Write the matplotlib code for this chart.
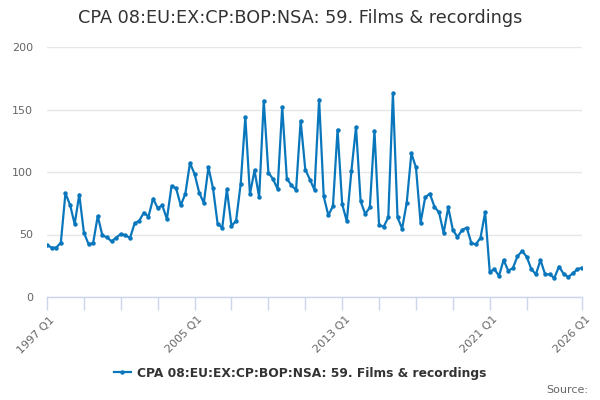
import matplotlib
matplotlib.use("Agg")
import matplotlib.pyplot as plt
from matplotlib.lines import Line2D

title = "CPA 08:EU:EX:CP:BOP:NSA: 59. Films & recordings"
years = list(range(1997, 2027))
periods = [f"{y} Q{q}" for y in years for q in range(1, 5)][:117]

values = [
    41.6, 39.5, 39.5, 43.5,
    83.0, 73.6, 58.4, 82.0,
    51.5, 42.4, 43.0, 64.8,
    49.3, 47.7, 44.5, 47.5,
    50.4, 49.3, 47.2, 59.0,
    61.0, 67.5, 64.3, 78.7,
    71.2, 73.3, 62.4, 88.8,
    86.9, 73.3, 82.7, 107.2,
    98.4, 83.5, 75.2, 103.7,
    86.9, 58.4, 55.5, 86.1,
    56.8, 61.0, 90.7, 144.0,
    82.4, 101.3, 79.7, 157.0,
    99.5, 94.4, 86.4, 152.0,
    94.7, 89.3, 85.6, 141.0,
    102.0, 94.0, 85.6, 158.0,
    80.5, 65.3, 72.8, 133.9,
    74.4, 60.5, 100.8, 136.0,
    76.5, 66.4, 71.7, 132.8,
    57.3, 56.3, 63.7, 162.9,
    63.7, 54.7, 75.5, 114.9,
    103.7, 59.5, 79.7, 82.7,
    72.3, 67.7, 51.2, 71.7,
    53.6, 48.0, 53.6, 55.5,
    43.2, 42.1, 47.5, 67.7,
    20.0, 22.4, 16.8, 29.6,
    21.1, 23.0, 32.5, 36.8,
    32.3, 22.4, 18.1, 29.6,
    18.1, 18.1, 15.2, 24.3,
    18.7, 16.0, 18.9, 22.1,
    23.5,
]
label_periods = ["1997 Q1", "2005 Q1", "2013 Q1", "2021 Q1", "2026 Q1"]
yticks = [0, 50, 100, 150, 200]

line_color = "#0a77bd"
text_color = "#333333"
tick_color = "#666666"

fig = plt.figure(figsize=(6, 4), dpi=100)
ax = fig.add_axes([47/600, 103/400, 535/600, 250/400])
x = list(range(len(values)))
ax.plot(x, values, color=line_color, lw=1.6, marker="o", ms=3.2,
        markeredgewidth=0, solid_joinstyle="round")
ax.set_xlim(0, len(values) - 1)
ax.set_ylim(0, 200)

ax.set_yticks(yticks)
ax.set_yticklabels([str(v) for v in yticks], color=tick_color, fontsize=8)
ax.grid(axis="y", color="#e6e6e6", lw=1)
ax.set_axisbelow(True)
ax.tick_params(axis="y", length=0, pad=10)

minor = list(range(0, 105, 8)) + [len(values) - 1]
ax.set_xticks(minor)
ax.set_xticklabels([""] * len(minor))
ax.tick_params(axis="x", length=9, color="#ccd6eb", width=1)
for lab in label_periods:
    i = periods.index(lab)
    ax.text(i + 0.6, -14, lab, rotation=45, ha="right", va="top",
            rotation_mode="anchor", fontsize=8, color=tick_color,
            transform=ax.transData, clip_on=False)

for s in ["top", "right", "left"]:
    ax.spines[s].set_visible(False)
ax.spines["bottom"].set_color("#ccd6eb")
ax.spines["bottom"].set_linewidth(1)

fig.text(0.5, 1 - 18/400, title, ha="center", va="center",
         fontsize=12.7, color=text_color)

h = Line2D([0], [0], color=line_color, lw=1.6, marker="o", ms=3.2,
           markeredgewidth=0)
fig.legend([h], [title], loc="center", bbox_to_anchor=(0.5, 1 - 373/400),
           frameon=False, prop={"weight": "bold", "size": 8.8},
           labelcolor=text_color, handlelength=1.4, handletextpad=0.5)

fig.text(588/600, 1 - 390/400, "Source:", ha="right", va="center",
         fontsize=8, color=tick_color)

fig.savefig("out.png", dpi=100)
